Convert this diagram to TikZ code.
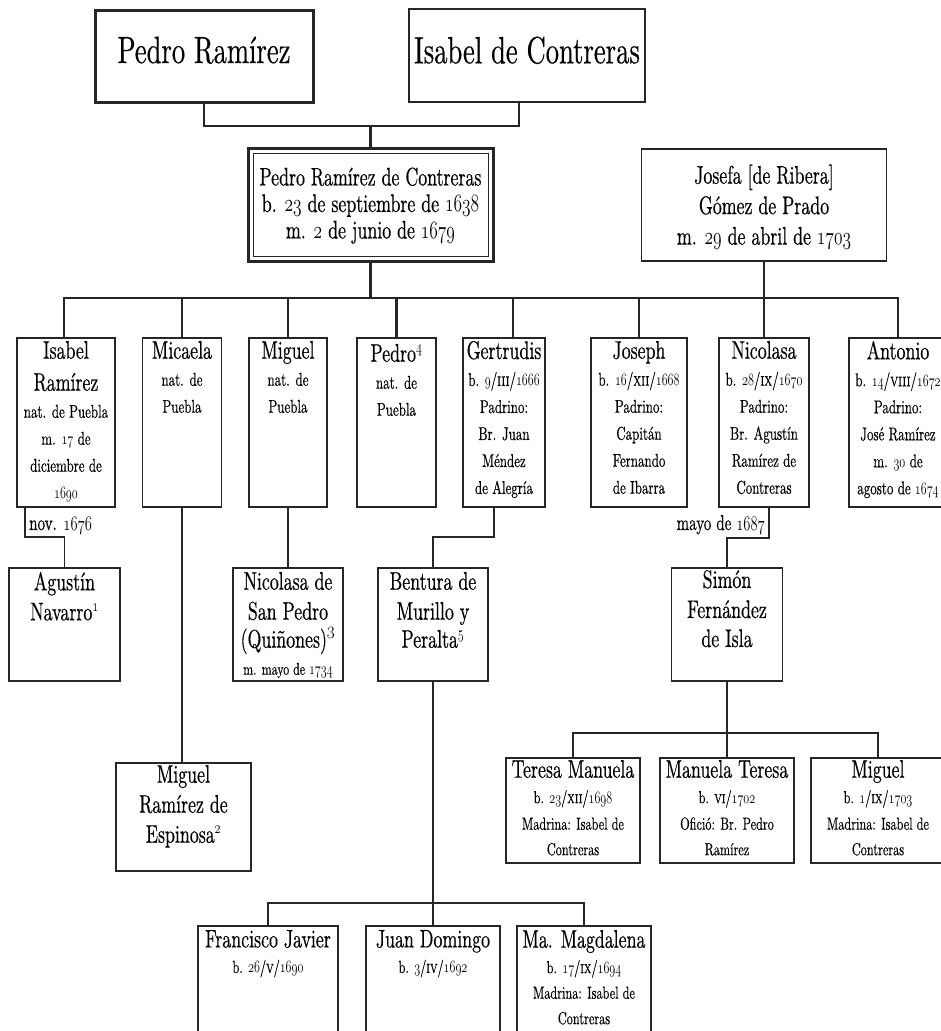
\documentclass[tikz,border=0pt]{standalone}
\usepackage{fontspec}
\setmainfont{lmroman10-regular.otf}[FakeStretch=0.7, FakeBold=0.4]
\newfontfamily\scfont{lmromancaps10-regular.otf}[FakeStretch=0.7, FakeBold=0.4]
\usepackage{tikz}
\usetikzlibrary{calc}
\usetikzlibrary{positioning}
\newcommand{\osn}[1]{\scalebox{0.7}[1]{\usefont{OML}{lmm}{b}{it}#1}}
\newcommand{\rn}[1]{{\scfont #1}}
\newcommand{\dte}[3]{\osn{#1}/\rn{#2}/\osn{#3}}
\newcommand{\bigf}{\fontsize{38}{42}\selectfont}
\newcommand{\midf}{\fontsize{25.5}{26.5}\selectfont}
\newcommand{\nmf}{\fontsize{25.5}{30}\selectfont}
\newcommand{\dtf}{\fontsize{18.5}{27}\selectfont}
\newcommand{\gdf}{\fontsize{17.5}{25.5}\selectfont}
\newcommand{\smf}{\fontsize{17}{20}\selectfont}
\newcommand{\lbf}{\fontsize{21.5}{24}\selectfont}
\tikzset{
  personBox/.style 2 args={%
    draw=black!85, line width=1.3pt, anchor=north, inner sep=0pt, outer sep=0pt,
    minimum width=#1, minimum height=#2,
  },
  nameText/.style={%
    align=center, inner sep=0pt, outer sep=0pt,
  },
  dateLabel/.style={%
    font=\lbf, inner sep=0pt,
  },
  thickLine/.style={%
    draw=black!85, line width=2.6pt,
  },
  thinLine/.style={%
    draw=black!85, line width=1.3pt,
  }
}

\begin{document}
\begin{tikzpicture}[x=1pt,y=-1pt]
        \useasboundingbox (0,0) rectangle (941,1031);
        \clip (0,0) rectangle (941,1031);
        \node[personBox={218pt}{92pt}, line width=3pt] (pedro) at (204,10) {};
        \node[personBox={236pt}{93pt}] (isabel) at (527,9) {};
        \node[personBox={245pt}{113pt}, line width=3pt] (pedroRC) at (370.5,148) {};
        \node[personBox={245pt}{112pt}] (josefa) at (764,149) {};
        \draw[line width=1pt, black!85] ([shift={(5,5)}]pedroRC.north west) rectangle ([shift={(-5,-5)}]pedroRC.south east);
        \node[nameText, font=\bigf, below=26.5pt of pedro.north] (pedroText) {Pedro Ramírez};
        \node[nameText, font=\bigf, below=27.5pt of isabel.north] (isabelText) {Isabel de Contreras};
        \node[nameText, font=\midf, below=19.5pt of pedroRC.north] (pedroRCText) {Pedro Ramírez de Contreras\\b. \osn{23} de septiembre de \osn{1638}\\m. \osn{2} de junio de \osn{1679}};
        \node[nameText, font=\fontsize{25.5}{30.5}\selectfont, below=15.5pt of josefa.north] (josefaText) {Josefa [de Ribera]\\Gómez de Prado\\m. \osn{29} de abril de \osn{1703}};
        \coordinate (parentsJoin) at (370.5,126);
        \coordinate (barL) at (64,298);
        \draw[thickLine, line width=2.4pt] (pedro.south) |- (parentsJoin) -| ([xshift=-8pt]isabel.south);
        \draw[thickLine, line width=2.4pt] (parentsJoin) -- (pedroRC.north);
        \foreach \n/\x/\w/\d in {isabelR/66/98/-2, micaela/182/79/0, miguel/288/78/0, pedroJr/396.5/79/0, gertrudis/504/82/9, joseph/639/96/0, nicolasa/764/90/0, antonio/898/98/0}
        {
          \node[personBox={\w pt}{169pt}] (\n) at (\x,338) {};
          \draw[thickLine] ([xshift=\d pt]\n.north) -- ([xshift=\d pt]\n.north |- barL);
        }
        \draw[thickLine] ([xshift=-3.3pt]isabelR.north |- barL) -- ([xshift=1.3pt]antonio.north |- barL);
        \draw[thickLine] (pedroRC.south) -- (pedroRC.south |- barL);
        \draw[thickLine] (josefa.south) -- (josefa.south |- barL);
        \node[nameText, font=\dtf, below=3pt of isabelR.north] (isabelRText) {{\nmf Isabel}\\[5pt]{\nmf Ramírez}\\nat. de Puebla\\m. \osn{17} de\\diciembre de\\\osn{1690}};
        \node[nameText, font=\dtf, below=3pt of micaela.north] (micaelaText) {{\nmf Micaela}\\nat. de\\Puebla};
        \node[nameText, font=\dtf, below=3pt of miguel.north] (miguelText) {{\nmf Miguel}\\nat. de\\Puebla};
        \node[nameText, font=\dtf, below=6pt of pedroJr.north] (pedroJrText) {{\nmf Pedro\textsuperscript{\osn{4}}}\\nat. de\\Puebla};
        \node[nameText, font=\dtf, below=3pt of gertrudis.north] (gertrudisText) {{\nmf Gertrudis}\\b. \dte{9}{iii}{1666}\\Padrino:\\Br. Juan\\Méndez\\de Alegría};
        \node[nameText, font=\dtf, below=3pt of joseph.north] (josephText) {{\nmf Joseph}\\b. \dte{16}{xii}{1668}\\Padrino:\\Capitán\\Fernando\\de Ibarra};
        \node[nameText, font=\dtf, below=3pt of nicolasa.north] (nicolasaText) {{\nmf Nicolasa}\\b. \dte{28}{ix}{1670}\\Padrino:\\Br. Agustín\\Ramírez de\\Contreras};
        \node[nameText, font=\dtf, below=3pt of antonio.north] (antonioText) {{\nmf Antonio}\\b. \dte{14}{viii}{1672}\\Padrino:\\José Ramírez\\m. \osn{30} de\\agosto de \osn{1674}};
        \node[personBox={111pt}{113pt}] (agustin) at (64.5,568) {};
        \node[personBox={110pt}{113pt}] (nicolasaSP) at (288,568) {};
        \node[personBox={110pt}{113pt}] (bentura) at (433,568) {};
        \node[personBox={111pt}{113pt}] (simon) at (727,568) {};
        \node[personBox={135pt}{108pt}] (miguelRE) at (183.5,763) {};
        \node[nameText, font=\nmf, below=4pt of agustin.north] (agustinText) {Agustín\\Navarro\textsuperscript{\osn{1}}};
        \node[nameText, font=\nmf, below=4pt of nicolasaSP.north] (nicolasaSPText) {Nicolasa de\\San Pedro\\[-2pt](Quiñones)$^{3}$\\[-3pt]{\smf m. mayo de \osn{1734}}};
        \node[nameText, font=\nmf, below=4pt of bentura.north] (benturaText) {Bentura de\\Murillo y\\[-2pt]Peralta\textsuperscript{\osn{5}}};
        \node[nameText, font=\nmf, below=2pt of simon.north] (simonText) {Simón\\Fernández\\[-1pt]de Isla};
        \node[nameText, font=\nmf, below=2pt of miguelRE.north] (miguelREText) {Miguel\\Ramírez de\\Espinosa\textsuperscript{\osn{2}}};
        \node[dateLabel, anchor=base west] (isabelMarriage) at (29,530) {nov. \osn{1676}};
        \node[dateLabel, anchor=base east] (nicolasaMarriage) at (765,530) {mayo de \osn{1687}};
        \foreach \n/\x in {teresaM/573, manuelaT/727, miguelS/878}
        {
          \node[personBox={134pt}{105pt}] (\n) at (\x,758) {};
        }
        \node[nameText, font=\gdf, below=2pt of teresaM.north] (teresaMText) {{\nmf Teresa Manuela}\\b. \dte{23}{xii}{1698}\\[1pt]Madrina: Isabel de\\Contreras};
        \node[nameText, font=\gdf, below=2pt of manuelaT.north] (manuelaTText) {{\nmf Manuela Teresa}\\b. \rn{vi}/\osn{1702}\\[1pt]Ofició: Br. Pedro\\Ramírez};
        \node[nameText, font=\gdf, below=2pt of miguelS.north] (miguelSText) {{\nmf Miguel}\\b. \dte{1}{ix}{1703}\\[1pt]Madrina: Isabel de\\Contreras};
        \node[personBox={140pt}{130pt}] (francisco) at (268,926) {};
        \node[personBox={134pt}{130pt}] (juan) at (433,926) {};
        \node[personBox={134pt}{130pt}] (magdalena) at (584,926) {};
        \node[nameText, font=\gdf, below=4pt of francisco.north] (franciscoText) {{\nmf Francisco Javier}\\b. \dte{26}{v}{1690}};
        \node[nameText, font=\gdf, below=4pt of juan.north] (juanText) {{\nmf Juan Domingo}\\b. \dte{3}{iv}{1692}};
        \node[nameText, font=\gdf, below=4pt of magdalena.north] (magdalenaText) {{\nmf Ma. Magdalena}\\b. \dte{17}{ix}{1694}\\Madrina: Isabel de\\Contreras};
        \coordinate (isabelBend) at (25,537);
        \coordinate (gertrudisBend) at (494,537);
        \coordinate (nicolasaBend) at (769,538);
        \coordinate (simonJoin) at (727,733);
        \coordinate (benturaJoin) at (433,903);
        \draw[thinLine] (isabelR.south -| isabelBend) -- (isabelBend) -| (agustin.north);
        \draw[thinLine] (micaela.south) -- (micaela.south |- miguelRE.north);
        \draw[thinLine] (miguel.south) -- (nicolasaSP.north);
        \draw[thinLine] (gertrudis.south -| gertrudisBend) -- (gertrudisBend) -| (bentura.north);
        \draw[thinLine] (nicolasa.south -| nicolasaBend) -- (nicolasaBend) -| (simon.north);
        \draw[thinLine] (simon.south) -- (manuelaT.north);
        \draw[thinLine] (teresaM.north) |- (simonJoin) -| (miguelS.north);
        \draw[thinLine] (bentura.south) -- (juan.north);
        \draw[thinLine] (francisco.north) |- (benturaJoin) -| (magdalena.north);
      \end{tikzpicture}
\end{document}
